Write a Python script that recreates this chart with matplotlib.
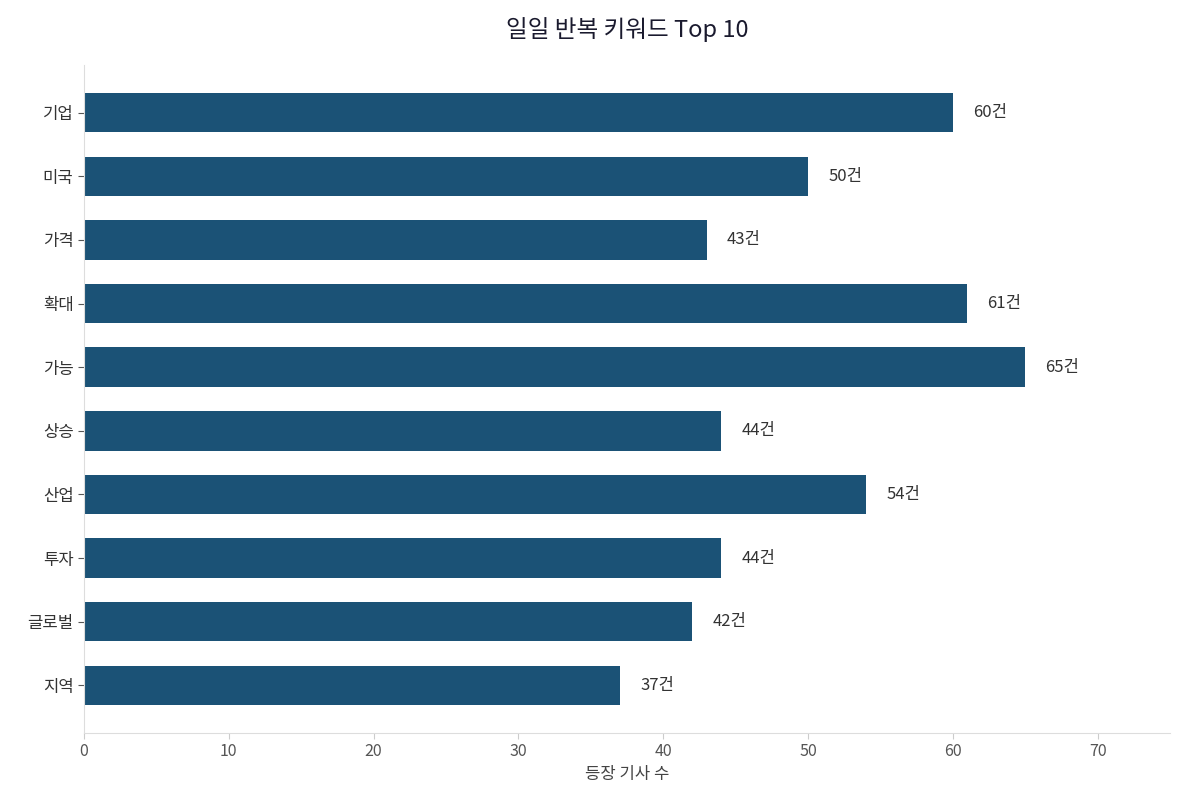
import matplotlib

matplotlib.use("Agg")
import matplotlib.pyplot as plt

plt.rcParams["font.family"] = ["Noto Sans CJK KR", "DejaVu Sans"]

keywords = ["기업", "미국", "가격", "확대", "가능", "상승", "산업", "투자", "글로벌", "지역"]
counts = [60, 50, 43, 61, 65, 44, 54, 44, 42, 37]

fig = plt.figure(figsize=(11.85, 8.09), dpi=100)
ax = fig.add_axes([84 / 1185, 1 - 733 / 809, (1170 - 84) / 1185, (733 - 65) / 809])

y = list(range(len(keywords)))
ax.barh(y, counts, height=0.62, color="#1B5276")
for yi, c in zip(y, counts):
    ax.text(c + 1.4, yi, f"{c}건", va="center", ha="left", fontsize=12, color="#333333")

ax.set_yticks(y)
ax.set_yticklabels(keywords, fontsize=12, color="#333333")
ax.invert_yaxis()
ax.set_ylim(len(keywords) - 0.25, -0.75)
ax.set_xlim(0, 75)
ax.set_xticks(range(0, 80, 10))
ax.tick_params(axis="x", labelsize=11.5, colors="#555555", length=4, color="#cccccc")
ax.tick_params(axis="y", length=4, color="#555555")
ax.set_xlabel("등장 기사 수", fontsize=12, color="#444444", labelpad=4)
ax.set_title("일일 반복 키워드 Top 10", fontsize=17, color="#1a1a2e", pad=20)

for side in ("top", "right"):
    ax.spines[side].set_visible(False)
for side in ("left", "bottom"):
    ax.spines[side].set_color("#dddddd")

fig.savefig("out.png", dpi=100, facecolor="white")
